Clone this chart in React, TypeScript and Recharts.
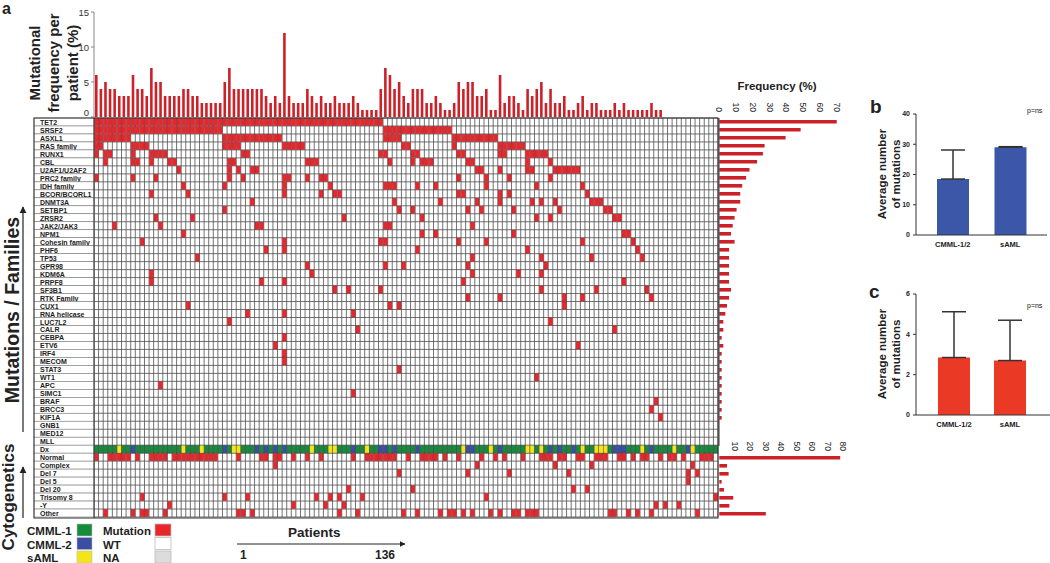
import React from "react";
import {
  Bar,
  BarChart,
  CartesianGrid,
  ErrorBar,
  Scatter,
  ScatterChart,
  XAxis,
  YAxis,
} from "recharts";

const FONT = '"Liberation Sans", Arial, Helvetica, sans-serif';

// mutated genes / families, top to bottom
const mutationNames = [
  "TET2", "SRSF2", "ASXL1", "RAS family", "RUNX1", "CBL", "U2AF1/U2AF2", "PRC2 family",
  "IDH family", "BCOR/BCORL1", "DNMT3A", "SETBP1", "ZRSR2", "JAK2/JAK3", "NPM1",
  "Cohesin family", "PHF6", "TP53", "GPR98", "KDM6A", "PRPF8", "SF3B1", "RTK Family",
  "CUX1", "RNA helicase", "LUC7L2", "CALR", "CEBPA", "ETV6", "IRF4", "MECOM", "STAT3",
  "WT1", "APC", "SIMC1", "BRAF", "BRCC3", "KIF1A", "GNB1", "MED12", "MLL",
];
const cytoNames = ["Normal", "Complex", "Del 7", "Del 5", "Del 20", "Trisomy 8", "-Y", "Other"];

// mutated patient columns (0-based) for each gene row
const mutationCells = [
  "0-62",
  "0-27,63-77",
  "0-7,28-40,63-66,78-87",
  "0-1,8-11,28-31,41-45,67-68,78,88-93",
  "0,2-3,8,12-15,32-33,62-63,69-70,79-80,88-89,94-98",
  "2,8-9,12,16-17,29-30,46-48,64,69,71-73,81-82,94,99",
  "18,29,31,34-35,83-84,88,94-95,100-105",
  "0,8,13,29,32,41-42,46,49-50,79,85,90,99",
  "19,28,41,51,63-65,70,74,85,96,106",
  "12,20,41,49,52-53,79-80,88,90,107",
  "34,65,75,83,88,95,97,100,108-110",
  "28,66,69,81,84,91,101,111-112",
  "13,21,54,71,96,99,113-114",
  "4,14,35-36,63-64,82",
  "19,71,74,91,115-116",
  "10,41,62-63,79,85,106,117",
  "37,41,70,94,118",
  "22,82,97,108,119",
  "46,63,67,81,98",
  "12,47,82,92,97",
  "12,36,41,80,115",
  "52,55,62,97,109,120",
  "81,88,102,106,121",
  "20,64,66,102",
  "33,41,56",
  "29,99",
  "57,113",
  "41",
  "39,105",
  "41",
  "41",
  "66",
  "96",
  "14",
  "56",
  "122",
  "121",
  "123",
  "",
  "",
  "",
];

// diagnosis row: CMML-2 and sAML columns, the rest CMML-1
const dxCmml2 = "8,28,35,37,39,41,56,62-63,65,70,81-82,88,99,101,104,113-115,121,129";
const dxSaml = "5,19,23,30-31,47,51-52,59,80,86,94-95,97,106,109-111,119,126,130";

// cytogenetics rows
const cytoCells = [
  "0,3-7,9,12-15,17-26,31,36-37,39-40,43,46,49,56,59-65,68,71-74,76,79,84,87,89,93,97-99,101-102,105-106,109-111,114-115,117,119-120,123,125-126,128,132-134",
  "39,83,100,108,130",
  "66,81,90,103,129,131",
  "129",
  "55,69,104,107",
  "10,28,33,48,51,53,58,85,135",
  "16,43,50,54,122,124,127",
  "2,8,10-11,15,31-32,34,53,57,67,70,75,77-78,80,82,86,88,91-92,94-96,112-113,116,118,121,131",
];

// mutations per patient (top bars)
const perPatient = [
  6, 4, 5, 4, 4, 3, 3, 3, 6, 4, 4, 3, 7, 5, 5, 3, 3, 3, 3, 4, 4, 3, 3, 2, 2, 2, 2, 2, 5, 7,
  4, 4, 4, 4, 4, 4, 4, 3, 2, 3, 2, 12, 3, 2, 2, 2, 4, 3, 2, 3, 2, 2, 3, 2, 2, 2, 3, 2, 1, 1,
  1, 1, 4, 7, 6, 4, 5, 3, 2, 4, 4, 4, 2, 2, 3, 2, 1, 1, 2, 5, 4, 5, 5, 3, 3, 4, 1, 1, 6, 2,
  3, 3, 2, 1, 4, 3, 4, 5, 2, 4, 2, 2, 3, 1, 1, 2, 3, 1, 2, 2, 1, 1, 1, 2, 1, 2, 1, 1, 1, 1,
  1, 2, 1, 1, 0, 0, 0, 0, 0, 0, 0, 0, 0, 0, 0, 0,
];

// frequency (%) per gene and per cytogenetic class
const mutationFreq = [
  70, 48.5, 39.5, 27, 26, 22.5, 18, 16, 13.7, 12.5, 12.5, 10.3, 9.1, 8, 7, 9.1, 5.8, 5.8,
  5.8, 5.8, 5.8, 7, 5.8, 4.6, 3.6, 2.4, 2.4, 1.4, 2.4, 1.4, 1.4, 1.4, 1.4, 1.4, 1.4, 1.4,
  1.4, 1.4, 0, 0, 0,
];
const cytoFreq = [78, 5, 6, 1.5, 3, 9, 6.5, 30];

// panels b and c
const groups = ["CMML-1/2", "sAML"];
const avgAll = [18.5, 29];
const avgAllSd = [9.6, 0.2];
const avgSel = [2.85, 2.7];
const avgSelSd = [2.27, 2.0];

const PATIENTS = 136;
const GRID_LEFT = 94;
const GRID_RIGHT = 718;
const GRID_TOP = 118;
const ROW_H = 8;
const ALL_ROWS = [...mutationNames, "Dx", ...cytoNames];
const GRID_BOTTOM = GRID_TOP + ALL_ROWS.length * ROW_H;
const CELL_W = (GRID_RIGHT - GRID_LEFT) / PATIENTS;
const FREQ_LEFT = 719.3;

const BAR_RED = "#cc2129";
const KIND_FILL: Record<string, string> = {
  m: "#e8262b",
  g: "#178a3e",
  b: "#3a4ea3",
  y: "#f3e51a",
};

function parseCols(s: string): number[] {
  const out: number[] = [];
  s.split(",").filter(Boolean).forEach((part) => {
    const [a, b] = part.split("-").map(Number);
    for (let c = a; c <= (b ?? a); c++) out.push(c);
  });
  return out;
}

const cells: { x: number; y: number; k: string }[] = [];
mutationCells.forEach((s, r) =>
  parseCols(s).forEach((c) => cells.push({ x: c + 0.5, y: r + 0.5, k: "m" }))
);
const dxRow = mutationNames.length;
const blueSet = new Set(parseCols(dxCmml2));
const yellowSet = new Set(parseCols(dxSaml));
for (let c = 0; c < PATIENTS; c++) {
  cells.push({ x: c + 0.5, y: dxRow + 0.5, k: blueSet.has(c) ? "b" : yellowSet.has(c) ? "y" : "g" });
}
cytoCells.forEach((s, i) =>
  parseCols(s).forEach((c) => cells.push({ x: c + 0.5, y: dxRow + 1 + i + 0.5, k: "m" }))
);

const patientData = perPatient.map((v, i) => ({ p: i + 1, v }));
const mutFreqData = mutationNames.map((name, i) => ({ name, v: mutationFreq[i] }));
const cytoFreqData = cytoNames.map((name, i) => ({ name, v: cytoFreq[i] }));
const allData = groups.map((g, i) => ({ g, v: avgAll[i], e: [0, avgAllSd[i]] }));
const selData = groups.map((g, i) => ({ g, v: avgSel[i], e: [0, avgSelSd[i]] }));

function CellMark(p: any) {
  const { cx, cy, payload } = p;
  const mut = payload.k === "m";
  const inset = mut ? 0.4 : 0.15;
  return (
    <rect
      x={cx - CELL_W / 2 + inset}
      y={cy - ROW_H / 2 + inset}
      width={CELL_W - 2 * inset}
      height={ROW_H - 2 * inset}
      fill={KIND_FILL[payload.k]}
      stroke={mut ? "#a61b1f" : "#3a3a3a"}
      strokeWidth={mut ? 0.4 : 0.3}
    />
  );
}

function RowLabel(p: any) {
  const { y, payload } = p;
  const name = ALL_ROWS[payload.value];
  if (name === undefined) return null;
  return (
    <g>
      <rect x={GRID_LEFT - 60} y={y} width={60} height={ROW_H} fill="#fff" stroke="#7a7a7a" strokeWidth={0.6} />
      <text
        x={GRID_LEFT - 54}
        y={y + ROW_H / 2 + 0.5}
        dominantBaseline="central"
        fontSize={7}
        fontWeight="bold"
        fontFamily={FONT}
        fill="#222"
      >
        {name}
      </text>
    </g>
  );
}

function RotTick(p: any) {
  const { x, y, payload } = p;
  return (
    <text
      x={x}
      y={y}
      transform={`rotate(90 ${x} ${y})`}
      textAnchor="end"
      dominantBaseline="central"
      fontSize={8.5}
      fontFamily={FONT}
      fill="#222"
    >
      {payload.value}
    </text>
  );
}

function TopTick(p: any) {
  const { x, y, payload } = p;
  return (
    <text x={x} y={payload.value === 0 ? y - 5 : y} textAnchor="end" dominantBaseline="central" fontSize={9.5} fontFamily={FONT} fill="#333">
      {payload.value}
    </text>
  );
}

const abs = (left: number, top: number): React.CSSProperties => ({ position: "absolute", left, top });

function TopBars() {
  return (
    <div style={abs(0, 0)}>
      <BarChart width={GRID_RIGHT + 2} height={GRID_TOP} data={patientData} margin={{ top: 12, right: 2, bottom: 1, left: 0 }}>
        <XAxis dataKey="p" hide />
        <YAxis
          width={GRID_LEFT}
          domain={[0, 15]}
          ticks={[0, 5, 10, 15]}
          interval={0}
          tick={(p: any) => <TopTick {...p} />}
          tickSize={3}
          axisLine={{ stroke: "#888" }}
          tickLine={{ stroke: "#888" }}
        />
        <Bar dataKey="v" fill={BAR_RED} barSize={2.6} isAnimationActive={false} />
      </BarChart>
    </div>
  );
}

function Heatmap() {
  const xTicks = Array.from({ length: PATIENTS + 1 }, (_, i) => i);
  const yTicks = Array.from({ length: ALL_ROWS.length + 1 }, (_, i) => i);
  return (
    <div style={abs(0, 0)}>
      <ScatterChart
        width={GRID_RIGHT + 2}
        height={GRID_BOTTOM + 2}
        margin={{ top: GRID_TOP, right: 2, bottom: 2, left: GRID_LEFT - 60 }}
      >
        <CartesianGrid stroke="#4e4e4e" strokeWidth={0.8} fill="#fff" />
        <XAxis
          type="number"
          dataKey="x"
          domain={[0, PATIENTS]}
          ticks={xTicks}
          interval={0}
          height={1}
          tick={() => <g />}
          tickLine={false}
          axisLine={false}
        />
        <YAxis
          type="number"
          dataKey="y"
          domain={[0, ALL_ROWS.length]}
          ticks={yTicks}
          interval={0}
          reversed
          width={60}
          tickLine={false}
          axisLine={false}
          tick={(p: any) => <RowLabel {...p} />}
        />
        <Scatter data={cells} shape={(p: any) => <CellMark {...p} />} isAnimationActive={false} />
      </ScatterChart>
    </div>
  );
}

function MutFreq() {
  const left = 700;
  return (
    <div style={abs(left, 0)}>
      <BarChart
        layout="vertical"
        width={150}
        height={GRID_TOP + mutationNames.length * ROW_H + 4}
        data={mutFreqData}
        margin={{ top: GRID_TOP - 20, right: 150 - (836.7 - left), bottom: 4, left: FREQ_LEFT - left }}
      >
        <XAxis
          type="number"
          orientation="top"
          domain={[0, 70]}
          ticks={[0, 10, 20, 30, 40, 50, 60, 70]}
          interval={0}
          height={20}
          tickSize={0}
          tickMargin={6}
          axisLine={false}
          tick={(p: any) => <RotTick {...p} />}
        />
        <YAxis type="category" dataKey="name" hide />
        <Bar dataKey="v" fill={BAR_RED} barSize={3.6} isAnimationActive={false} />
      </BarChart>
    </div>
  );
}

function CytoFreq() {
  const top = 400;
  const left = 700;
  const plotTop = GRID_TOP + (dxRow + 1) * ROW_H;
  return (
    <div style={abs(left, top)}>
      <BarChart
        layout="vertical"
        width={160}
        height={GRID_BOTTOM - top + 2}
        data={cytoFreqData}
        margin={{ top: plotTop - top - 20, right: 160 - (843.3 - left), bottom: 2, left: FREQ_LEFT - left }}
      >
        <XAxis
          type="number"
          orientation="top"
          domain={[0, 80]}
          ticks={[10, 20, 30, 40, 50, 60, 70, 80]}
          interval={0}
          height={20}
          tickSize={0}
          tickMargin={3}
          axisLine={false}
          tick={(p: any) => <RotTick {...p} />}
        />
        <YAxis type="category" dataKey="name" hide />
        <Bar dataKey="v" fill={BAR_RED} barSize={3.6} isAnimationActive={false} />
      </BarChart>
    </div>
  );
}

function SmallBars(props: {
  data: any[];
  top: number;
  max: number;
  ticks: number[];
  fill: string;
  right: number;
  pad: { left: number; right: number };
}) {
  const { data, top, max, ticks, fill, right, pad } = props;
  return (
    <div style={abs(870, top)}>
      <BarChart width={180} height={160} data={data} margin={{ top: 14, right, bottom: 5, left: 0 }}>
        <XAxis
          dataKey="g"
          padding={pad}
          tickLine={false}
          tickSize={0}
          tickMargin={7}
          height={20}
          axisLine={{ stroke: "#333" }}
          tick={{ fontSize: 7.5, fontWeight: "bold", fill: "#222", fontFamily: FONT }}
        />
        <YAxis
          width={46}
          domain={[0, max]}
          ticks={ticks}
          interval={0}
          tickSize={3}
          tickMargin={3}
          axisLine={{ stroke: "#333" }}
          tickLine={{ stroke: "#333" }}
          tick={{ fontSize: 7, fontWeight: "bold", fill: "#222", fontFamily: FONT }}
        />
        <Bar dataKey="v" fill={fill} barSize={32} isAnimationActive={false}>
          <ErrorBar dataKey="e" direction="y" width={12} stroke="#333" strokeWidth={1.5} />
        </Bar>
      </BarChart>
    </div>
  );
}

function Overlay() {
  const bold = { fontFamily: FONT, fontWeight: "bold" as const, fill: "#222" };
  return (
    <svg width={1050} height={563} style={{ position: "absolute", left: 0, top: 0, pointerEvents: "none" }}>
      <defs>
        <marker id="ah" viewBox="0 0 10 10" refX="9" refY="5" markerWidth="6" markerHeight="6" orient="auto-start-reverse">
          <path d="M0,0 L10,5 L0,10 z" fill="#222" />
        </marker>
      </defs>
      <rect x={GRID_LEFT - 60} y={GRID_TOP} width={GRID_RIGHT - GRID_LEFT + 60} height={GRID_BOTTOM - GRID_TOP} fill="none" stroke="#333" strokeWidth={1} />
      <line x1={GRID_LEFT} y1={GRID_TOP} x2={GRID_LEFT} y2={GRID_BOTTOM} stroke="#333" strokeWidth={1} />
      <line x1={719} y1={GRID_TOP} x2={719} y2={GRID_TOP + mutationNames.length * ROW_H} stroke="#333" strokeWidth={1} />

      <text x={2} y={14} fontSize={16} {...bold}>a</text>
      {["Mutational", "frequency per", "patient (%)"].map((t, i) => (
        <text key={t} transform={`translate(${40 + i * 19},63) rotate(-90)`} textAnchor="middle" fontSize={15} {...bold}>
          {t}
        </text>
      ))}
      <text x={777} y={90} textAnchor="middle" fontSize={11.5} {...bold}>Frequency (%)</text>

      <text transform="translate(19,310) rotate(-90)" textAnchor="middle" fontSize={19.5} {...bold}>Mutations / Families</text>
      <line x1={23} y1={432} x2={23} y2={207} stroke="#222" strokeWidth={1.2} markerEnd="url(#ah)" />
      <text transform="translate(14,497) rotate(-90)" textAnchor="middle" fontSize={17} {...bold}>Cytogenetics</text>
      <line x1={23} y1={518} x2={23} y2={467} stroke="#222" strokeWidth={1.2} markerEnd="url(#ah)" />

      {[["CMML-1", KIND_FILL.g], ["CMML-2", KIND_FILL.b], ["sAML", KIND_FILL.y]].map(([t, c], i) => (
        <g key={t}>
          <text x={27} y={535 + i * 13.5} fontSize={11.5} {...bold}>{t}</text>
          <rect x={77} y={524 + i * 13.5} width={15} height={12} fill={c} stroke="#bbb" strokeWidth={0.6} />
        </g>
      ))}
      {[["Mutation", KIND_FILL.m], ["WT", "#fff"], ["NA", "#dcdcdc"]].map(([t, c], i) => (
        <g key={t}>
          <text x={103} y={535 + i * 13.5} fontSize={11.5} {...bold}>{t}</text>
          <rect x={155} y={524 + i * 13.5} width={16} height={12} fill={c} stroke="#bbb" strokeWidth={0.8} />
        </g>
      ))}
      <text x={288} y={537} fontSize={13.5} {...bold}>Patients</text>
      <line x1={237} y1={544} x2={405} y2={544} stroke="#222" strokeWidth={1} markerEnd="url(#ah)" />
      <text x={240} y={559} fontSize={12} {...bold}>1</text>
      <text x={375} y={559} fontSize={12} {...bold}>136</text>

      <text x={870} y={113} fontSize={19} {...bold}>b</text>
      <text x={869} y={298} fontSize={19} {...bold}>c</text>
      <text x={1027} y={113} fontSize={7} fontFamily={FONT} fill="#111">p=ns</text>
      <text x={1027} y={308} fontSize={7} fontFamily={FONT} fill="#111">p=ns</text>
      {[174, 354].map((cy) => (
        <g key={cy}>
          <text transform={`translate(886,${cy}) rotate(-90)`} textAnchor="middle" fontSize={11.5} {...bold}>Average number</text>
          <text transform={`translate(900,${cy}) rotate(-90)`} textAnchor="middle" fontSize={11.5} {...bold}>of mutations</text>
        </g>
      ))}
    </svg>
  );
}

export default function App() {
  return (
    <div style={{ position: "absolute", left: 0, top: 0, width: 1050, height: 563, background: "#fff", overflow: "hidden" }}>
      <TopBars />
      <Heatmap />
      <MutFreq />
      <CytoFreq />
      <SmallBars data={allData} top={100} max={40} ticks={[0, 10, 20, 30, 40]} fill="#3c57a8" right={3} pad={{ left: 8, right: 8 }} />
      <SmallBars data={selData} top={280} max={6} ticks={[0, 2, 4, 6]} fill="#ea3a26" right={0} pad={{ left: 10, right: 12 }} />
      <Overlay />
    </div>
  );
}
